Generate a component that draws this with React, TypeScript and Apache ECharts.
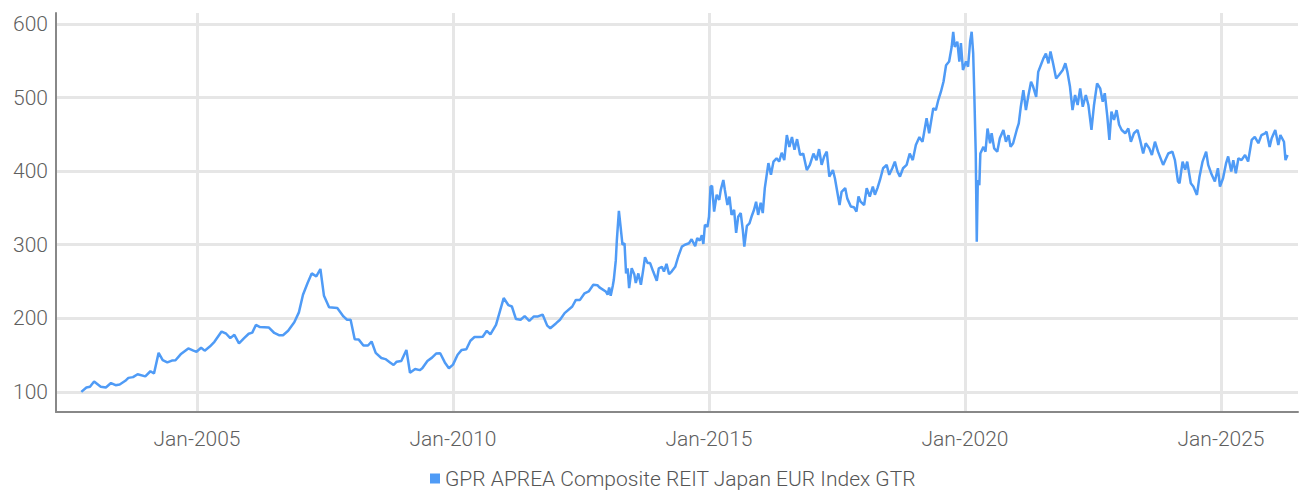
import React, { useEffect, useRef } from "react";
import * as echarts from "echarts";

const seriesName = "GPR APREA Composite REIT Japan EUR Index GTR";

const years = [
  2002.74, 2002.84, 2002.91, 2002.99, 2003.12, 2003.22, 2003.32, 2003.41, 2003.49, 2003.6,
  2003.66, 2003.75, 2003.84, 2003.99, 2004.09, 2004.16, 2004.25, 2004.33, 2004.42, 2004.51,
  2004.58, 2004.68, 2004.83, 2004.93, 2004.99, 2005.08, 2005.15, 2005.25, 2005.34, 2005.48,
  2005.57, 2005.65, 2005.73, 2005.82, 2005.92, 2006.01, 2006.08, 2006.15, 2006.23, 2006.4,
  2006.51, 2006.6, 2006.68, 2006.78, 2006.9, 2006.99, 2007.07, 2007.16, 2007.24, 2007.33,
  2007.41, 2007.48, 2007.58, 2007.74, 2007.86, 2007.93, 2008.0, 2008.08, 2008.16, 2008.25,
  2008.34, 2008.41, 2008.49, 2008.6, 2008.68, 2008.77, 2008.84, 2008.9, 2008.99, 2009.09,
  2009.16, 2009.26, 2009.35, 2009.4, 2009.5, 2009.59, 2009.67, 2009.75, 2009.84, 2009.92,
  2010.0, 2010.09, 2010.17, 2010.26, 2010.34, 2010.42, 2010.51, 2010.58, 2010.66, 2010.73,
  2010.84, 2010.92, 2010.99, 2011.08, 2011.15, 2011.23, 2011.32, 2011.4, 2011.49, 2011.58,
  2011.66, 2011.75, 2011.84, 2011.9, 2012.01, 2012.09, 2012.18, 2012.33, 2012.4, 2012.48,
  2012.57, 2012.65, 2012.74, 2012.82, 2012.86, 2012.99, 2013.02, 2013.05, 2013.08, 2013.12,
  2013.14, 2013.18, 2013.2, 2013.24, 2013.28, 2013.31, 2013.35, 2013.38, 2013.41, 2013.44,
  2013.49, 2013.54, 2013.57, 2013.62, 2013.67, 2013.71, 2013.75, 2013.8, 2013.85, 2013.91,
  2013.98, 2014.02, 2014.08, 2014.12, 2014.17, 2014.22, 2014.27, 2014.34, 2014.4, 2014.47,
  2014.53, 2014.61, 2014.66, 2014.73, 2014.77, 2014.82, 2014.86, 2014.89, 2014.92, 2014.97,
  2015.0, 2015.03, 2015.06, 2015.1, 2015.15, 2015.2, 2015.23, 2015.28, 2015.31, 2015.36,
  2015.4, 2015.44, 2015.49, 2015.53, 2015.57, 2015.62, 2015.66, 2015.69, 2015.74, 2015.79,
  2015.83, 2015.88, 2015.92, 2015.96, 2016.01, 2016.05, 2016.09, 2016.16, 2016.21, 2016.26,
  2016.32, 2016.37, 2016.42, 2016.47, 2016.52, 2016.57, 2016.62, 2016.67, 2016.72, 2016.78,
  2016.84, 2016.91, 2016.97, 2017.04, 2017.1, 2017.15, 2017.2, 2017.25, 2017.3, 2017.35,
  2017.42, 2017.46, 2017.55, 2017.59, 2017.66, 2017.7, 2017.77, 2017.83, 2017.88, 2017.92,
  2017.96, 2018.03, 2018.08, 2018.14, 2018.2, 2018.24, 2018.29, 2018.34, 2018.4, 2018.47,
  2018.52, 2018.58, 2018.63, 2018.68, 2018.73, 2018.79, 2018.86, 2018.92, 2018.98, 2019.04,
  2019.11, 2019.12, 2019.17, 2019.25, 2019.3, 2019.38, 2019.43, 2019.48, 2019.53, 2019.58,
  2019.63, 2019.69, 2019.74, 2019.77, 2019.8, 2019.85, 2019.89, 2019.92, 2019.96, 2020.02,
  2020.06, 2020.1, 2020.13, 2020.16, 2020.18, 2020.21, 2020.23, 2020.25, 2020.28, 2020.3,
  2020.36, 2020.4, 2020.44, 2020.49, 2020.52, 2020.57, 2020.63, 2020.68, 2020.75, 2020.8,
  2020.85, 2020.89, 2020.94, 2021.01, 2021.05, 2021.09, 2021.14, 2021.19, 2021.24, 2021.29,
  2021.33, 2021.39, 2021.43, 2021.48, 2021.53, 2021.58, 2021.63, 2021.67, 2021.72, 2021.78,
  2021.84, 2021.91, 2021.96, 2022.0, 2022.05, 2022.1, 2022.15, 2022.2, 2022.25, 2022.3,
  2022.36, 2022.41, 2022.47, 2022.52, 2022.58, 2022.64, 2022.69, 2022.73, 2022.78, 2022.82,
  2022.86, 2022.91, 2022.96, 2023.01, 2023.06, 2023.13, 2023.19, 2023.24, 2023.3, 2023.37,
  2023.42, 2023.48, 2023.53, 2023.6, 2023.65, 2023.71, 2023.77, 2023.87, 2023.97, 2024.05,
  2024.1, 2024.16, 2024.19, 2024.25, 2024.3, 2024.34, 2024.41, 2024.46, 2024.53, 2024.58,
  2024.64, 2024.71, 2024.75, 2024.82, 2024.88, 2024.94, 2024.98, 2025.04, 2025.1, 2025.14,
  2025.2, 2025.24, 2025.29, 2025.34, 2025.4, 2025.47, 2025.53, 2025.6, 2025.66, 2025.73,
  2025.79, 2025.86, 2025.89, 2025.95, 2025.99, 2026.06, 2026.12, 2026.16, 2026.23, 2026.26,
  2026.3,
];

// Index values (EUR, total return)
const values = [
  100, 106, 107, 114, 107, 106, 112, 109, 110, 115,
  119, 120, 124, 121, 128, 125, 153, 143, 140, 142.5,
  143, 151, 159, 156, 154.5, 160, 156, 161.5, 168, 182,
  179, 173, 177.5, 166, 173, 179, 180.5, 191, 188, 187.5,
  180, 177, 177, 183, 194.5, 208, 232, 248, 261, 257,
  267, 230.5, 215, 214, 202.5, 198, 198, 171.5, 171, 163,
  163, 168.5, 153, 146, 144.5, 140, 136.5, 141, 142, 157,
  126, 131, 129.5, 132, 142, 146.5, 152, 152.5, 140, 132,
  137, 150.5, 157, 158, 169.5, 174.5, 174.5, 175, 183, 178,
  191, 210.5, 227.5, 218, 216, 199, 198, 203, 196.5, 202.5,
  202.5, 205, 190, 186.5, 193, 198, 207, 216, 225, 225,
  234, 236.5, 245.5, 245, 242, 236, 232, 242, 230.5, 244,
  252, 279, 306, 346, 320, 300, 302, 261, 268, 241,
  268, 260, 248, 261, 245.5, 263.5, 283, 275, 275, 263.5,
  251, 268, 270, 263.5, 274, 260, 263.5, 270, 284, 297.5,
  300, 302, 307.5, 298, 309, 305.5, 313, 301, 327, 324.5,
  338, 379, 380, 345, 368, 361, 374.5, 388, 374.5, 354,
  365.5, 340.5, 347.5, 316, 338, 343, 320, 297.5, 325.5, 329,
  338, 347.5, 358.5, 340.5, 357, 343, 377, 411, 395, 413,
  417.5, 413, 425, 415, 449, 433, 446.5, 429, 443.5, 422,
  424, 401.5, 408.5, 424, 415, 430, 408.5, 420, 426.5, 392.5,
  401.5, 390, 354, 372, 377, 363, 352, 351, 345, 365.5,
  358.5, 354, 377, 365.5, 379, 368, 377, 388, 404, 408.5,
  395, 404, 413, 399.5, 392.5, 404, 408.5, 424, 415, 435.6,
  446.5, 444.7, 440, 472, 451.5, 485.5, 483, 497, 508, 521.6,
  544, 549, 569, 589.5, 569, 576, 549, 574, 537.5, 549,
  542, 576, 589.5, 560, 510, 424, 304, 388, 381, 424,
  433, 426.5, 458, 438, 451.5, 431, 426.5, 444.7, 456, 440,
  449, 433, 438, 456, 465, 487.6, 510, 483, 503.5, 521.6,
  515, 501, 535, 544, 553, 560, 546.6, 562.6, 546.6, 526,
  531, 537.5, 546.6, 535, 515, 483, 503.5, 490, 512.6, 487.6,
  503.5, 490, 456, 490, 519.4, 512.6, 494.4, 506, 474, 442.4,
  481, 469.6, 483, 463, 456, 451.5, 458, 440, 451.5, 456,
  442.4, 424, 438, 431, 422, 440, 426.5, 408.5, 424, 426.5,
  415, 386, 383.5, 413, 402, 413, 383.5, 379, 367.7, 392.5,
  413, 426.5, 408.5, 395, 386, 404, 379, 390.4, 411, 420,
  399.5, 415, 397, 417.5, 415, 422, 413, 442.4, 446.5, 438,
  449, 451.5, 453.7, 433, 444.7, 456, 435.6, 449, 440, 415,
  422,
];

const yTickValues = [100, 200, 300, 400, 500, 600];
const xTickYears = [2005, 2010, 2015, 2020, 2025];

const LINE_COLOR = "#4f9bf6";
const FONT = "Roboto";

export default function App() {
  const ref = useRef<HTMLDivElement>(null);

  useEffect(() => {
    document.body.style.margin = "0";
    const chart = echarts.init(ref.current!, null, { renderer: "svg" });
    chart.setOption({
      animation: false,
      textStyle: { fontFamily: FONT },
      grid: {
        left: 56,
        right: 3,
        top: 13,
        bottom: 82,
        containLabel: false,
        outerBoundsMode: "none",
      },
      legend: {
        data: [{ name: seriesName, icon: "rect", itemStyle: { color: LINE_COLOR } }],
        left: 430,
        top: 468,
        padding: 0,
        itemWidth: 10,
        itemHeight: 10,
        itemGap: 10,
        textStyle: { fontFamily: FONT, fontSize: 21, color: "#555555", fontWeight: 300 },
      },
      xAxis: {
        type: "value",
        min: 2002.246,
        max: 2026.504,
        axisLine: { show: true, lineStyle: { color: "#888888", width: 2 } },
        axisTick: { show: false, customValues: xTickYears },
        axisLabel: {
          customValues: xTickYears,
          formatter: (v: number) => "Jan-" + Math.round(v),
          margin: 16,
          fontFamily: FONT,
          fontSize: 21,
          fontWeight: 300,
          color: "#5f5f5f",
        },
        splitLine: { show: true, lineStyle: { color: "#e6e6e6", width: 3 } },
      },
      yAxis: {
        type: "value",
        min: 72.6,
        max: 615,
        axisLine: { show: true, lineStyle: { color: "#888888", width: 2 } },
        axisTick: { show: false, customValues: yTickValues },
        axisLabel: {
          customValues: yTickValues,
          margin: 8,
          fontFamily: FONT,
          fontSize: 21,
          fontWeight: 300,
          color: "#5f5f5f",
        },
        splitLine: { show: true, lineStyle: { color: "#e6e6e6", width: 3 } },
      },
      series: [
        {
          name: seriesName,
          type: "line",
          data: years.map((y, i) => [y, values[i]]),
          showSymbol: false,
          symbol: "none",
          lineStyle: { width: 2.5, color: LINE_COLOR },
          itemStyle: { color: LINE_COLOR },
        },
      ],
    });
    return () => chart.dispose();
  }, []);

  return <div ref={ref} style={{ width: 1301, height: 494 }} />;
}
